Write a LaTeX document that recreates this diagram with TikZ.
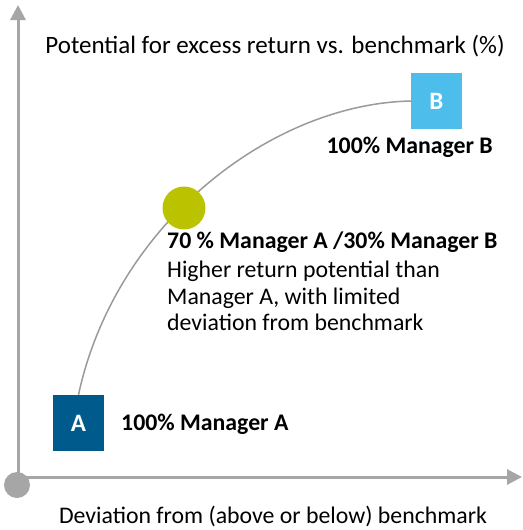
\documentclass[tikz,border=0pt]{standalone}
\usepackage{fontspec}
\setmainfont{Carlito}
\usetikzlibrary{arrows.meta}
\definecolor{axisgray}{HTML}{A6A6A6}
\definecolor{curvegray}{HTML}{9A9A9A}
\definecolor{mgrA}{HTML}{005A8C}
\definecolor{mgrB}{HTML}{4DBDEB}
\definecolor{mixgreen}{HTML}{BBC300}
\tikzset{
  axisline/.style={draw=axisgray, line width=3pt, -{Triangle[length=15pt,width=15pt]}},
  mgrbox/.style={minimum width=51pt, minimum height=56pt, inner sep=0pt, text=white, font=\fontsize{25}{28}\selectfont\bfseries},
  lbl/.style={inner sep=0pt, font=\fontsize{23.8}{26.5}\selectfont},
  blbl/.style={inner sep=0pt, font=\fontsize{23.8}{26.5}\selectfont\bfseries},
}
\begin{document}
\begin{tikzpicture}[x=1pt,y=-1pt]
\useasboundingbox (0,0) rectangle (522,530);
\coordinate (O) at (18,477);
\coordinate (xend) at (522,477);
\coordinate (yend) at (18,5);
\node[circle, fill=axisgray, minimum size=26pt, inner sep=0pt] (orig) at (17,485) {};
\draw[axisline] (O) -- (yend);
\draw[axisline] (O) -- (xend);
\node[mgrbox, fill=mgrA] (A) at (78.5,423) {A};
\node[mgrbox, fill=mgrB] (B) at (436.5,101) {B};
\draw[curvegray, line width=1.5pt] (A.north) .. controls (115,225) and (270,104) .. (B.west);
\node[circle, fill=mixgreen, minimum size=43pt, inner sep=0pt] (mix) at (184,208) {};
\node[blbl, anchor=base west] (la) at (121,430) {100\% Manager A};
\node[blbl, anchor=base east] (lb) at (493,153) {100\% Manager B};
\node[blbl, anchor=base west] (lmix) at (167,248) {70 \% Manager A /30\% Manager B};
\node[lbl, anchor=north west, align=left] (desc) at (167,261) {Higher return potential than\\Manager A, with limited\\deviation from benchmark};
\node[lbl, anchor=base, font=\fontsize{25}{28}\selectfont] (ylab) at (275,53) {Potential for excess return vs. benchmark (\%)};
\node[lbl, anchor=base] (xlab) at (273,523) {Deviation from (above or below) benchmark};
\end{tikzpicture}
\end{document}
